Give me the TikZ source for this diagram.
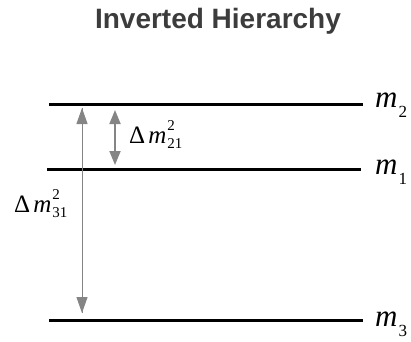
\documentclass[tikz,border=0pt]{standalone}
\usepackage{fontspec}
\setmainfont{Liberation Serif}
\newfontfamily\titlefont{Liberation Sans}
\usetikzlibrary{arrows.meta}
\definecolor{titlegray}{HTML}{3C3C3C}
\definecolor{arrowgray}{HTML}{858585}
\newcommand\dmsq[1]{\fontsize{25}{27}\selectfont\char"0394\kern3pt\textit{m}\kern1pt\rlap{\raisebox{0.52em}{\fontsize{15}{15}\selectfont 2}}\raisebox{-0.22em}{\fontsize{15}{15}\selectfont #1}}
\newcommand\mlab[1]{\fontsize{31}{33}\selectfont\textit{m}\kern1pt\raisebox{-0.33em}{\fontsize{17}{17}\selectfont #1}}
\begin{document}
\begin{tikzpicture}[x=1pt,y=-1pt,
  level/.style={line width=3pt,black},
  bigarr/.style={arrowgray,line width=1pt,-{Triangle[length=16pt,width=11pt]}},
  smallarr/.style={arrowgray,line width=1.8pt,{Triangle[length=14pt,width=11pt]}-{Triangle[length=14pt,width=11pt]}},
  lab/.style={inner sep=0pt,anchor=base west}]
\useasboundingbox (0,0) rectangle (411,341);
\node[font=\titlefont\bfseries\fontsize{28}{30}\selectfont,text=titlegray,inner sep=0pt,anchor=base] (title) at (218,28) {Inverted Hierarchy};
% levels
\coordinate (m2l) at (49,104); \coordinate (m2r) at (363,104);
\coordinate (m1l) at (47,169); \coordinate (m1r) at (361,169);
\coordinate (m3l) at (49,320); \coordinate (m3r) at (363,320);
\draw[level] (m2l) -- (m2r);
\draw[level] (m1l) -- (m1r);
\draw[level] (m3l) -- (m3r);
\node[lab] (lm2) at (375,107) {\mlab{2}};
\node[lab] (lm1) at (375,174) {\mlab{1}};
\node[lab] (lm3) at (375,326) {\mlab{3}};
% arrows
\coordinate (a1) at (82,313); \coordinate (a2) at (82,108);
\draw[bigarr] (a1) -- (a2);
\draw[bigarr] (a2) -- (a1);
\coordinate (s1) at (115,110); \coordinate (s2) at (115,165);
\draw[smallarr] (s1) -- (s2);
\node[lab] (d21) at (129,143) {\dmsq{21}};
\node[lab] (d31) at (14,212) {\dmsq{31}};
\end{tikzpicture}
\end{document}
